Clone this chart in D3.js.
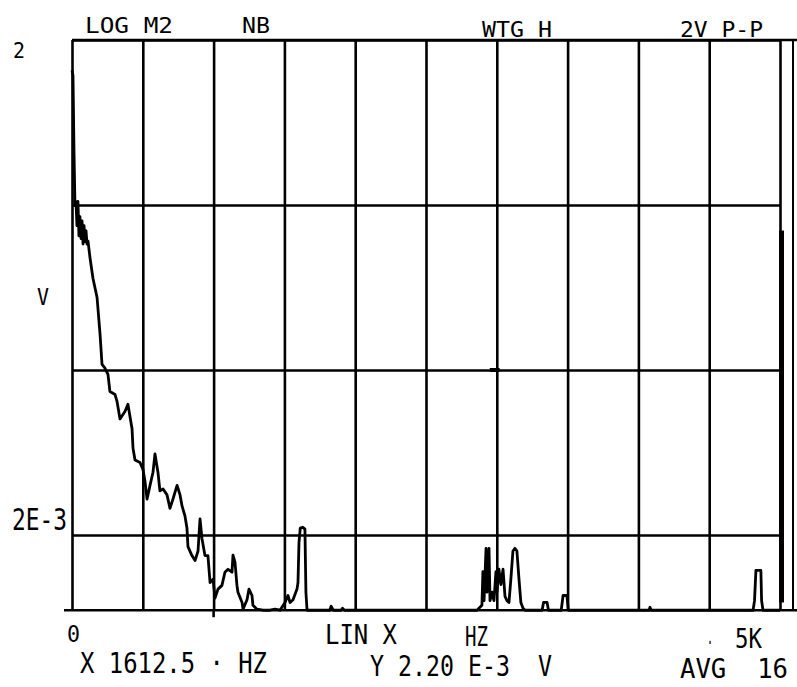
<!DOCTYPE html>
<html>
<head>
<meta charset="utf-8">
<script src="https://cdn.jsdelivr.net/npm/d3@7"></script>
<style>
  body { margin: 0; background: #fff; }
  text { font-family: "DejaVu Sans Mono", monospace; fill: #000; }
</style>
</head>
<body>
<div id="chart"></div>
<script>
// spectrum trace (Hz, V)
const freqHz = [0, 7, 14, 21, 28, 35, 42, 49, 56, 64, 71, 78, 85, 92, 99, 106, 113, 127, 148, 177,
  198, 212, 233, 254, 268, 304, 318, 339, 374, 395, 424, 431, 445, 480, 501, 516, 530, 551, 572, 586,
  607, 621, 643, 671, 692, 713, 742, 763, 777, 798, 812, 819, 847, 869, 890, 904, 918, 939, 960, 975,
  996, 1010, 1031, 1059, 1080, 1102, 1130, 1137, 1151, 1165, 1172, 1201, 1208, 1236, 1250, 1271, 1278, 1306, 1349, 1398,
  1434, 1469, 1504, 1525, 1540, 1561, 1589, 1596, 1603, 1612, 1630, 1645, 1652, 1660, 1820, 1830, 1845, 1900, 1910, 1925,
  2860, 2895, 2902, 2910, 2924, 2931, 2945, 2952, 2966, 2980, 2994, 3001, 3015, 3029, 3044, 3058, 3072, 3086, 3100, 3114,
  3128, 3142, 3156, 3170, 3185, 3200, 3320, 3330, 3355, 3365, 3455, 3468, 3495, 3505, 4075, 4082, 4090, 4810, 4820, 4830,
  4865, 4870, 4880, 5000];
const ampV = [1.31, 1.22, 0.43, 0.198, 0.21, 0.15, 0.21, 0.13, 0.17, 0.125, 0.16, 0.116, 0.15, 0.12, 0.14, 0.116, 0.121, 0.096, 0.072, 0.055,
  0.033, 0.0216, 0.0205, 0.0188, 0.0148, 0.0142, 0.0129, 0.0101, 0.0112, 0.0124, 0.0088, 0.0067, 0.0057, 0.0055, 0.005, 0.0042, 0.0033, 0.004, 0.0048, 0.0062,
  0.0048, 0.0037, 0.0038, 0.0035, 0.0029, 0.0033, 0.004, 0.0035, 0.003, 0.0026, 0.0022, 0.0017, 0.0015, 0.0014, 0.0016, 0.0025, 0.0019, 0.0015, 0.0015, 0.00103,
  0.00108, 0.00083, 0.00094, 0.00099, 0.00119, 0.00124, 0.00119, 0.00151, 0.00137, 0.00099, 0.0009, 0.00078, 0.00071, 0.00081, 0.00094, 0.00086, 0.00075, 0.00071, 0.0007, 0.0007,
  0.00071, 0.0007, 0.00078, 0.00086, 0.00078, 0.00081, 0.00094, 0.00103, 0.0018, 0.0022, 0.00223, 0.00217, 0.0009, 0.0007, 0.0007, 0.00074, 0.0007, 0.0007, 0.00072, 0.0007,
  0.0007, 0.00075, 0.0012, 0.0008, 0.00166, 0.0009, 0.00166, 0.0008, 0.0009, 0.0008, 0.0012, 0.0009, 0.00124, 0.001, 0.00124, 0.00085, 0.0008, 0.00078, 0.0011, 0.0016,
  0.00166, 0.0016, 0.0011, 0.00078, 0.00072, 0.0007, 0.0007, 0.00078, 0.00078, 0.0007, 0.0007, 0.00086, 0.00086, 0.0007, 0.0007, 0.00073, 0.0007, 0.0007, 0.0008, 0.00122,
  0.00122, 0.0008, 0.0007, 0.0007];

const xTicks = d3.range(0, 5001, 500);
const yTicks = [2, 0.2, 0.02, 0.002];
const yFloor = 0.0007;

const width = 797;
const height = 687;

const svg = d3.select("#chart")
  .append("svg")
  .attr("width", width)
  .attr("height", height);

const x = d3.scaleLinear().domain([0, 5000]).range([72, 780]);
const y = d3.scaleLog().domain([0.002, 2]).range([535, 40]);

const plotTop = y(2), plotBottom = y(yFloor);

// Vertical grid
svg.append("g")
  .attr("transform", `translate(0,${plotBottom})`)
  .call(d3.axisBottom(x).tickValues(xTicks).tickSize(-(plotBottom - plotTop)).tickFormat(""))
  .call(g => g.select(".domain").remove())
  .call(g => g.selectAll("line").attr("stroke", "#000").attr("stroke-width", 2.6));

// Horizontal grid
svg.append("g")
  .attr("transform", `translate(${x(0)},0)`)
  .call(d3.axisLeft(y).tickValues(yTicks).tickSize(-(x(5000) - x(0))).tickFormat(""))
  .call(g => g.select(".domain").remove())
  .call(g => g.selectAll("line").attr("stroke", "#000").attr("stroke-width", 2.6));

// frame bits: top line running out to the edge, bottom line, outer right line
svg.append("line").attr("x1", x(0)).attr("x2", 797).attr("y1", plotTop).attr("y2", plotTop)
  .attr("stroke", "#000").attr("stroke-width", 2.6);
svg.append("line").attr("x1", 64).attr("x2", 797).attr("y1", plotBottom).attr("y2", plotBottom)
  .attr("stroke", "#000").attr("stroke-width", 2.6);
svg.append("line").attr("x1", 793).attr("x2", 793).attr("y1", plotTop).attr("y2", plotBottom)
  .attr("stroke", "#000").attr("stroke-width", 2);
// thick level bar at right edge
svg.append("rect").attr("x", x(5000) - 1).attr("width", 5)
  .attr("y", y(0.14)).attr("height", y(0.00078) - y(0.14)).attr("fill", "#000");
// tick below 1000 Hz line
svg.append("line").attr("x1", x(1000)).attr("x2", x(1000)).attr("y1", plotBottom).attr("y2", plotBottom + 7)
  .attr("stroke", "#000").attr("stroke-width", 2.6);
// small blob on the 0.02 line
svg.append("line").attr("x1", x(2950)).attr("x2", x(3020)).attr("y1", y(0.02)).attr("y2", y(0.02))
  .attr("stroke", "#000").attr("stroke-width", 4);

// trace
const trace = freqHz.map((f, i) => ({f: f, v: ampV[i]}));
svg.append("path")
  .datum(trace)
  .attr("fill", "none")
  .attr("stroke", "#000")
  .attr("stroke-width", 2.8)
  .attr("stroke-linejoin", "round")
  .attr("d", d3.line().x(d => x(d.f)).y(d => y(Math.max(d.v, yFloor))));

// labels: [text, x, baseline, font size, width]
const labels = [
  ["LOG M2", 85, 33, 20.5, 88],
  ["NB", 242, 33, 20.5, 28],
  ["WTG H", 482, 37, 20.5, 70],
  ["2V P-P", 680, 37, 20.5, 83],
  ["2", 13, 58, 22, 12],
  ["V", 37, 305, 23, 12],
  ["2E-3", 12, 530, 30, 55],
  ["0", 67, 642, 23, 13],
  ["LIN X", 325, 644, 26, 72],
  ["HZ", 465, 646, 26, 23],
  [".", 707, 644, 22, 6],
  ["5K", 735, 648, 27, 27],
  ["X 1612.5 · HZ", 80, 673, 28, 187],
  ["Y 2.20 E-3  V", 370, 676, 28, 182],
  ["AVG  16", 680, 678, 27, 108]
];

svg.selectAll("text.lbl")
  .data(labels)
  .enter()
  .append("text")
  .attr("class", "lbl")
  .attr("x", d => d[1])
  .attr("y", d => d[2])
  .style("font-size", d => d[3] + "px")
  .attr("textLength", d => d[4])
  .attr("lengthAdjust", "spacingAndGlyphs")
  .style("white-space", "pre")
  .text(d => d[0]);
</script>
</body>
</html>
